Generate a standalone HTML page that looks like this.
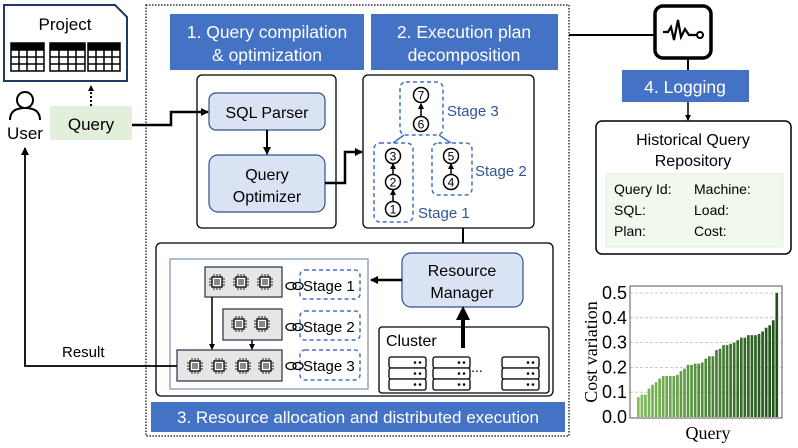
<!DOCTYPE html>
<html><head><meta charset="utf-8"><style>
body{margin:0;background:#fff;width:798px;height:443px;overflow:hidden}
text{font-family:"Liberation Sans",sans-serif}
</style></head><body>
<svg id="s" width="798" height="443" viewBox="0 0 798 443" xmlns="http://www.w3.org/2000/svg">
<defs>
<marker id="ah" markerWidth="8" markerHeight="8" refX="7" refY="4" orient="auto" markerUnits="userSpaceOnUse"><path d="M0,0 L8,4 L0,8z" fill="#000"/></marker>
<marker id="ab" markerWidth="16" markerHeight="14" refX="10" refY="7" orient="auto" markerUnits="userSpaceOnUse"><path d="M0,0 L14,7 L0,14z" fill="#000"/></marker>
<marker id="as" markerWidth="6" markerHeight="6" refX="5" refY="3" orient="auto" markerUnits="userSpaceOnUse"><path d="M0,0 L6,3 L0,6z" fill="#000"/></marker>
</defs>
<path d="M4,5 H115 L127,17 V81 H4z" fill="#fff" stroke="#203864" stroke-width="2"/>
<text x="65" y="30" font-size="17" text-anchor="middle">Project</text>
<g stroke="#000" fill="#fff" stroke-width="1.5">
<rect x="11" y="43" width="33" height="28"/><rect x="50" y="43" width="35" height="28"/><rect x="88" y="43" width="32" height="28"/>
<path d="M11,50H44M11,57H44M11,64H44M19,50V71M27,50V71M36,50V71 M50,50H85M50,57H85M50,64H85M59,50V71M68,50V71M76,50V71 M88,50H120M88,57H120M88,64H120M96,50V71M104,50V71M112,50V71"/>
</g>
<rect x="11" y="43" width="33" height="7" fill="#000"/><rect x="50" y="43" width="35" height="7" fill="#000"/><rect x="88" y="43" width="32" height="7" fill="#000"/>
<circle cx="25" cy="100" r="8" fill="none" stroke="#000" stroke-width="2"/>
<path d="M10,120 Q10,108 25,108 Q40,108 40,120" fill="none" stroke="#000" stroke-width="2"/>
<text x="25" y="139" font-size="17" text-anchor="middle">User</text>
<rect x="50" y="106" width="82" height="34" fill="#e2efda"/>
<text x="91" y="130" font-size="17" text-anchor="middle">Query</text>
<line x1="91" y1="106" x2="91" y2="86" stroke="#000" stroke-width="2" stroke-dasharray="2,2" marker-end="url(#as)"/>
<rect x="146" y="5" width="423" height="431" fill="none" stroke="#000" stroke-width="1.2" stroke-dasharray="1.5,1.5"/>
<rect x="170" y="14" width="194" height="56" fill="#4472c4"/>
<text x="267" y="38" font-size="17.5" fill="#fff" text-anchor="middle">1. Query compilation</text>
<text x="267" y="61" font-size="17.5" fill="#fff" text-anchor="middle">&amp; optimization</text>
<rect x="371" y="14" width="187" height="56" fill="#4472c4"/>
<text x="464" y="38" font-size="17.5" fill="#fff" text-anchor="middle">2. Execution plan</text>
<text x="464" y="61" font-size="17.5" fill="#fff" text-anchor="middle">decomposition</text>
<rect x="197" y="75" width="139" height="153" rx="5" fill="#fff" stroke="#000" stroke-width="1.3"/>
<rect x="209" y="93" width="116" height="37" rx="7" fill="#dae3f3" stroke="#2f528f" stroke-width="1.2"/>
<text x="267" y="118" font-size="16" text-anchor="middle">SQL Parser</text>
<rect x="209" y="155" width="116" height="57" rx="9" fill="#dae3f3" stroke="#2f528f" stroke-width="1.2"/>
<text x="267" y="180" font-size="16" text-anchor="middle">Query</text>
<text x="267" y="202" font-size="16" text-anchor="middle">Optimizer</text>
<line x1="267" y1="130" x2="267" y2="154" stroke="#000" stroke-width="2" marker-end="url(#ah)"/>
<path d="M132,125 H171 V112 H208" fill="none" stroke="#000" stroke-width="2.5" marker-end="url(#ah)"/>
<path d="M325,183 H345 V152 H362" fill="none" stroke="#000" stroke-width="2.5" marker-end="url(#ah)"/>
<rect x="363" y="75" width="171" height="153" rx="5" fill="#fff" stroke="#000" stroke-width="1.3"/>
<g fill="none" stroke="#4472c4" stroke-width="1.5" stroke-dasharray="4,3">
<rect x="400" y="82" width="43" height="53" rx="6"/>
<rect x="374" y="143" width="39" height="79" rx="6"/>
<rect x="432" y="143" width="40" height="52" rx="6"/>
</g>
<path d="M404,135 L393,143 M439,135 L451,143" stroke="#4472c4" stroke-width="1.5"/>
<g stroke="#000" stroke-width="1.5" fill="none">
<line x1="421" y1="117" x2="421" y2="104" marker-end="url(#as)"/>
<line x1="393" y1="175" x2="393" y2="164" marker-end="url(#as)"/>
<line x1="393" y1="202" x2="393" y2="190" marker-end="url(#as)"/>
<line x1="451" y1="175" x2="451" y2="164" marker-end="url(#as)"/>
</g>
<g fill="#fff" stroke="#000" stroke-width="1.5">
<circle cx="421" cy="95" r="7.5"/><circle cx="421" cy="124" r="7.5"/>
<circle cx="393" cy="156" r="7.5"/><circle cx="393" cy="182" r="7.5"/><circle cx="393" cy="209" r="7.5"/>
<circle cx="451" cy="156" r="7.5"/><circle cx="451" cy="182" r="7.5"/>
</g>
<g font-size="12" text-anchor="middle">
<text x="421" y="99.5">7</text><text x="421" y="128.5">6</text><text x="393" y="160.5">3</text><text x="393" y="186.5">2</text><text x="393" y="213.5">1</text><text x="451" y="160.5">5</text><text x="451" y="186.5">4</text>
</g>
<g font-size="15" fill="#2f5597">
<text x="447" y="116">Stage 3</text><text x="475" y="176">Stage 2</text><text x="418" y="218">Stage 1</text>
</g>
<line x1="463" y1="228" x2="463" y2="252" stroke="#000" stroke-width="2" marker-end="url(#ah)"/>
<rect x="156" y="243" width="397" height="153" rx="5" fill="#fff" stroke="#000" stroke-width="1.3"/>
<rect x="170" y="259" width="198" height="130" fill="#fff" stroke="#8497b0" stroke-width="1.3"/>
<rect x="402" y="253" width="121" height="54" rx="9" fill="#dae3f3" stroke="#2f528f" stroke-width="1.2"/>
<text x="462" y="276" font-size="16" text-anchor="middle">Resource</text>
<text x="462" y="298" font-size="16" text-anchor="middle">Manager</text>
<line x1="402" y1="280" x2="371" y2="280" stroke="#000" stroke-width="2.5" marker-end="url(#ah)"/>
<rect x="379" y="327" width="170" height="66" rx="3" fill="#fff" stroke="#000" stroke-width="1.3"/>
<text x="386" y="346" font-size="16">Cluster</text>
<line x1="463" y1="348" x2="463" y2="310" stroke="#000" stroke-width="4" marker-end="url(#ab)"/>
<g id="srv" fill="#fff" stroke="#000" stroke-width="1.3"></g>
<text x="477" y="372" font-size="14" text-anchor="middle">...</text>
<g fill="#e7e6e6" stroke="#333f50" stroke-width="1.3">
<rect x="205" y="267" width="77" height="30"/><rect x="223" y="309" width="59" height="31"/><rect x="177" y="350" width="105" height="31"/>
</g>
<g id="chips"></g>
<line x1="212" y1="297" x2="212" y2="349" stroke="#000" stroke-width="1.5" marker-end="url(#as)"/>
<line x1="252" y1="340" x2="252" y2="349" stroke="#000" stroke-width="1.5" marker-end="url(#as)"/>
<g fill="none" stroke="#4472c4" stroke-width="1.5" stroke-dasharray="4,3">
<rect x="300" y="270" width="60" height="29" rx="5"/><rect x="300" y="311" width="60" height="29" rx="5"/><rect x="300" y="350" width="60" height="30" rx="5"/>
</g>
<g fill="none" stroke="#000" stroke-width="1.3">
<ellipse cx="291" cy="286" rx="5" ry="3.5"/><ellipse cx="298" cy="286" rx="5" ry="3.5"/>
<ellipse cx="291" cy="327" rx="5" ry="3.5"/><ellipse cx="298" cy="327" rx="5" ry="3.5"/>
<ellipse cx="291" cy="366" rx="5" ry="3.5"/><ellipse cx="298" cy="366" rx="5" ry="3.5"/>
</g>
<g font-size="15"><text x="303" y="291">Stage 1</text><text x="303" y="332">Stage 2</text><text x="303" y="371">Stage 3</text></g>
<rect x="151" y="402" width="414" height="30" fill="#4472c4"/>
<text x="358" y="423" font-size="17" fill="#fff" text-anchor="middle">3. Resource allocation and distributed execution</text>
<path d="M177,366 H25 V148" fill="none" stroke="#000" stroke-width="1.8" marker-end="url(#ah)"/>
<text x="62" y="357" font-size="15">Result</text>
<line x1="569" y1="35" x2="655" y2="35" stroke="#000" stroke-width="2"/>
<rect x="655" y="6" width="56" height="52" rx="8" fill="#fff" stroke="#000" stroke-width="3.5"/>
<path d="M663,32 H668 L671,27 L674,40 L678,20 L681,37 L685,29 L689,35 H697" fill="none" stroke="#000" stroke-width="2.2"/>
<circle cx="700" cy="35" r="3" fill="#fff" stroke="#000" stroke-width="2"/>
<line x1="688" y1="58" x2="688" y2="70" stroke="#000" stroke-width="2"/>
<rect x="622" y="70" width="127" height="32" fill="#4472c4"/>
<text x="685" y="93" font-size="17.5" fill="#fff" text-anchor="middle">4. Logging</text>
<line x1="688" y1="102" x2="688" y2="120" stroke="#000" stroke-width="1.5" marker-end="url(#as)"/>
<rect x="596" y="121" width="195" height="133" rx="6" fill="#fff" stroke="#000" stroke-width="1.5"/>
<text x="693" y="145" font-size="16" text-anchor="middle">Historical Query</text>
<text x="693" y="166" font-size="16" text-anchor="middle">Repository</text>
<rect x="606" y="174" width="177" height="73" fill="#f1f8ed" stroke="#e2efda"/>
<g font-size="14"><text x="614" y="194">Query Id:</text><text x="614" y="215">SQL:</text><text x="614" y="236">Plan:</text>
<text x="694" y="194">Machine:</text><text x="694" y="215">Load:</text><text x="694" y="236">Cost:</text></g>
<g id="grid" stroke="#bbb" stroke-width="0.8" stroke-dasharray="3,2"></g>
<g id="bars"></g>
<rect x="630" y="286" width="152" height="132" fill="none" stroke="#555" stroke-width="1"/>
<g id="yt" style="font-family:'Liberation Serif',serif" font-size="18" text-anchor="end"></g>
<text x="708" y="439" font-size="18" style="font-family:'Liberation Serif',serif" text-anchor="middle">Query</text>
<text transform="translate(597,352) rotate(-90)" font-size="18" style="font-family:'Liberation Serif',serif" text-anchor="middle">Cost variation</text>
</svg>
<script>
var NS="http://www.w3.org/2000/svg";
function el(p,t,a,txt){var e=document.createElementNS(NS,t);for(var k in a)e.setAttribute(k,a[k]);if(txt)e.textContent=txt;document.getElementById(p).appendChild(e);return e;}
[[389,357],[433,357],[502,357]].forEach(function(p){for(var i=0;i<3;i++){el('srv','rect',{x:p[0],y:p[1]+i*11,width:37,height:11,rx:2});el('srv','circle',{cx:p[0]+26,cy:p[1]+i*11+5.5,r:1.3,fill:'#000',stroke:'none'});el('srv','circle',{cx:p[0]+31,cy:p[1]+i*11+5.5,r:1.3,fill:'#000',stroke:'none'});}});
function chip(x,y){el('chips','rect',{x:x-5,y:y-5,width:10,height:10,fill:'#fff',stroke:'#222','stroke-width':1.5});el('chips','rect',{x:x-3,y:y-3,width:6,height:6,fill:'#888',stroke:'none'});for(var i=-3;i<=3;i+=3){el('chips','path',{d:'M'+(x+i)+','+(y-8)+'v3M'+(x+i)+','+(y+5)+'v3M'+(x-8)+','+(y+i)+'h3M'+(x+5)+','+(y+i)+'h3',stroke:'#222','stroke-width':1});}}
[217,241,265].forEach(function(x){chip(x,282)});[239,262].forEach(function(x){chip(x,324)});[195,219,243,266].forEach(function(x){chip(x,366)});
var v=[.08,.09,.09,.115,.13,.14,.155,.165,.165,.165,.165,.17,.185,.195,.21,.21,.215,.215,.22,.235,.245,.245,.27,.275,.29,.29,.295,.30,.31,.32,.32,.33,.33,.33,.335,.345,.36,.37,.39,.5];
var y0=417,k=248;
for(var i=0;i<=5;i++){var y=y0-i*0.1*k;if(i>0)el('grid','line',{x1:630,x2:782,y1:y,y2:y});el('yt','text',{x:627,y:y+6},(i/10).toFixed(1));}
var n=v.length,w=(779-637)/n;
for(var i=0;i<n;i++){var t=i/(n-1);var r=Math.round(130-t*100),g=Math.round(190-t*110),b=Math.round(90-t*65);
el('bars','rect',{x:637+i*w,y:y0-v[i]*k,width:w*0.75,height:v[i]*k,fill:'rgb('+r+','+g+','+b+')'});}
</script>
</body></html>
